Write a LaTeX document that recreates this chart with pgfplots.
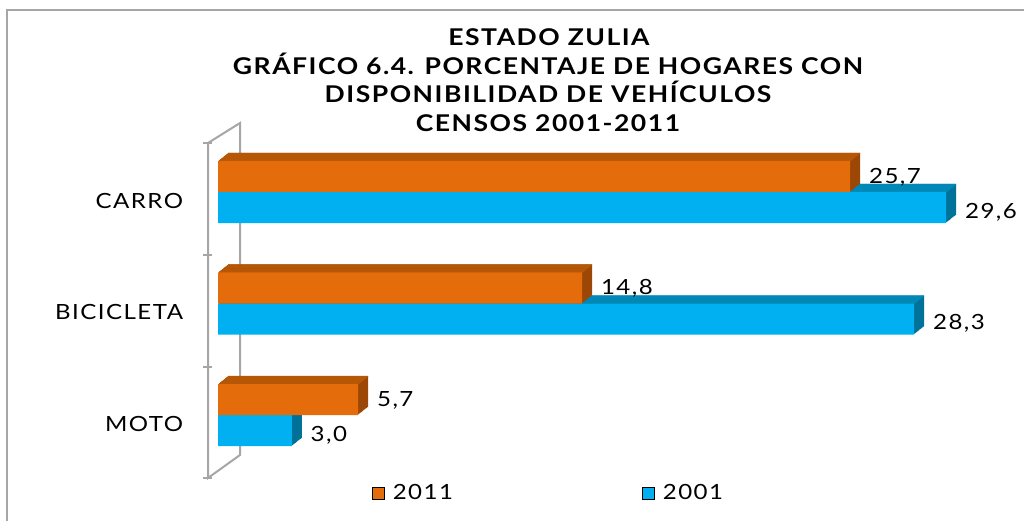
\documentclass[border=0pt]{standalone}
\usepackage{fontspec}
\setmainfont{Lato}
\newfontfamily\labf[FakeStretch=1.15, LetterSpace=7]{Lato}
\newfontfamily\ttlf[FakeStretch=1.15, LetterSpace=6.5]{Lato}
\usepackage{pgfplots}
\usepackage{pgfplotstable}
\pgfplotsset{compat=1.18}
\definecolor{orf}{HTML}{E46C0A}
\definecolor{ort}{HTML}{B65708}
\definecolor{ors}{HTML}{9C4706}
\definecolor{cyf}{HTML}{00B0F0}
\definecolor{cyt}{HTML}{0088B6}
\definecolor{cys}{HTML}{00729A}
\definecolor{wall}{HTML}{A6A6A6}

\pgfplotstableread{
cat y a b
MOTO 0 5.7 3.0
BICICLETA 1 14.8 28.3
CARRO 2 25.7 29.6
}\data

\newcommand\lab{\labf\fontsize{15.7}{18}\selectfont}
\newcommand\ttl{\ttlf\fontsize{17.3}{21}\selectfont\bfseries}

\begin{document}
\begin{tikzpicture}[x=0.75pt,y=0.75pt]
\path[use as bounding box] (0,0) rectangle (1024,521);
\draw[wall, line width=1.5pt] (7,0) -- (7,511) -- (1024,511);
% 3D wall
\draw[wall, line width=1.5pt] (240,398) -- (240,66) -- (208,43) -- (208,378) -- cycle;
\foreach \yy in {143,255,367,478} \draw[wall, line width=1.5pt] (203,521-\yy) -- (212,521-\yy);
% title
\node[font=\ttl, anchor=base] at (549,475) {ESTADO ZULIA};
\node[font=\ttl, anchor=base] at (548,446.5) {GRÁFICO 6.4. PORCENTAJE DE HOGARES CON};
\node[font=\ttl, anchor=base] at (548,418) {DISPONIBILIDAD DE VEHÍCULOS};
\node[font=\ttl, anchor=base] at (548,389) {CENSOS 2001-2011};

\begin{axis}[at={(163.5pt,37.6875pt)}, anchor=south west, scale only axis,
  width=590.4pt, height=250.875pt, xmin=0, xmax=32, ymin=-0.5, ymax=2.5, clip=false,
  axis line style={draw=none}, tick style={draw=none}, xtick=\empty,
  ytick={0,1,2}, yticklabels={MOTO,BICICLETA,CARRO},
  yticklabel style={font=\lab, anchor=east, inner sep=0pt, xshift=-26pt, yshift=-6.4pt},
  legend image code/.code={\fill[#1] (0pt,-4.5pt) rectangle (9pt,4.5pt);},
  legend columns=2,
  legend style={at={(0.4205,-0.0665)}, anchor=center, draw=none, fill=none, font=\lab,
    /tikz/every odd column/.append style={column sep=4pt},
    /tikz/every even column/.append style={column sep=140pt}},
  every node near coord/.append style={font=\lab, anchor=west, inner sep=0pt, xshift=14pt},
  nodes near coords={\pgfmathprintnumber[fixed, fixed zerofill, precision=1, use comma, assume math mode=true]{\pgfplotspointmeta}},
]
% cyan (2001) depth
\pgfplotsinvokeforeach{1,...,10}{
  \addplot[forget plot, xbar, bar width=23.25pt, bar shift={\fpeval{-11.625+#1*0.6}pt}, xshift=#1*0.75pt, fill=cys, draw=none, nodes near coords=] table[x=b,y=y]{\data};
}
\pgfplotsinvokeforeach{1,...,10}{
  \addplot[forget plot, xbar, bar width=0.9pt, bar shift={\fpeval{(#1-0.5)*0.6}pt}, xshift=#1*0.75pt, fill=cyt, draw=none, nodes near coords=] table[x=b,y=y]{\data};
}
\addplot[forget plot, xbar, bar width=23.25pt, bar shift=-11.625pt, fill=cyf, draw=none, point meta=x,
  every node near coord/.append style={yshift=-15pt}] table[x=b,y=y]{\data};
% orange (2011) depth
\pgfplotsinvokeforeach{1,...,10}{
  \addplot[forget plot, xbar, bar width=23.25pt, bar shift={\fpeval{11.625+#1*0.6}pt}, xshift=#1*0.75pt, fill=ors, draw=none, nodes near coords=] table[x=a,y=y]{\data};
}
\pgfplotsinvokeforeach{1,...,10}{
  \addplot[forget plot, xbar, bar width=0.9pt, bar shift={\fpeval{23.25+(#1-0.5)*0.6}pt}, xshift=#1*0.75pt, fill=ort, draw=none, nodes near coords=] table[x=a,y=y]{\data};
}
\addplot[forget plot, xbar, bar width=23.25pt, bar shift=11.625pt, fill=orf, draw=none, point meta=x,
  every node near coord/.append style={yshift=11pt}] table[x=a,y=y]{\data};
\addlegendimage{fill=orf}
\addlegendentry{2011}
\addlegendimage{fill=cyf}
\addlegendentry{2001}
\end{axis}
\end{tikzpicture}
\end{document}
